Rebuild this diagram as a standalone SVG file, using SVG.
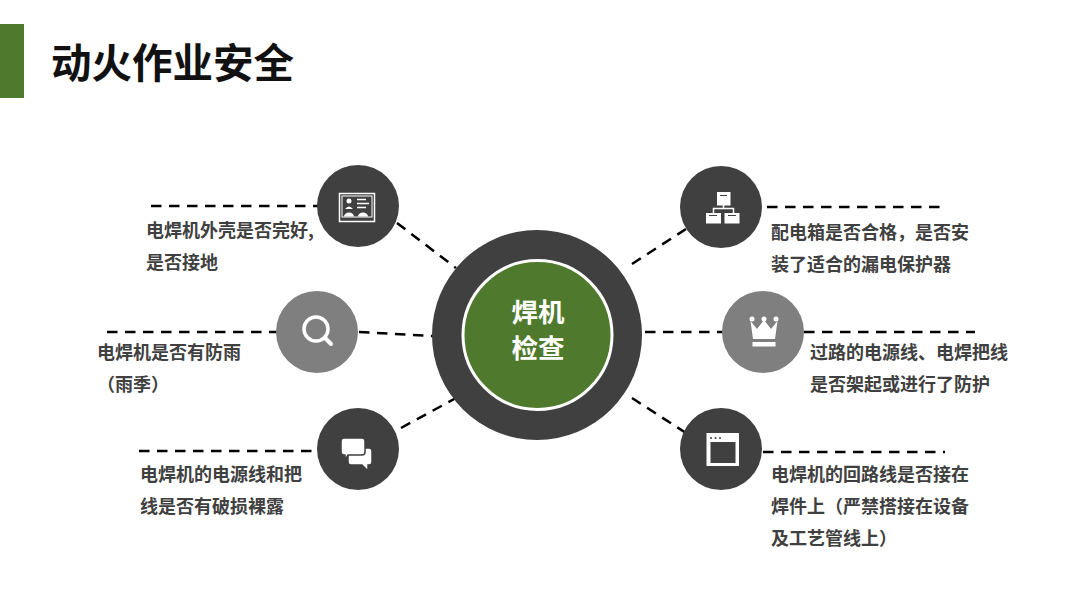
<svg xmlns="http://www.w3.org/2000/svg" width="1080" height="608" viewBox="0 0 1080 608">
<style>
text{font-family:"Noto Sans CJK SC","Liberation Sans",sans-serif}
.l{font-size:18px;font-weight:700;fill:#404040}
.d{fill:#404040}.g{fill:#7f7f7f}
.c{stroke:#000;stroke-width:2.500;fill:none;stroke-dasharray:10.500 7.500}
.w{fill:#fff}.ws{stroke:#fff;fill:none}
</style>
<rect width="1080" height="608" fill="#fff"/>
<rect id="title-bar" x="0" y="24" width="24" height="74" fill="#4f7a2e"/>
<text id="title" x="51" y="78" font-size="40.500" font-weight="700" fill="#111">动火作业安全</text>
<g id="connectors">
<path class="c" d="M151 206H318"/>
<path class="c" d="M397 223L456 268"/>
<path class="c" d="M107 332H277"/>
<path class="c" d="M359 332L433 336"/>
<path class="c" d="M139 451H318"/>
<path class="c" d="M401 428L456 398"/>
<path class="c" d="M767 207H940"/>
<path class="c" d="M632 264L686 229"/>
<path class="c" d="M645 332H723"/>
<path class="c" d="M804 332H975"/>
<path class="c" d="M632 398L686 433"/>
<path class="c" d="M763 452H945"/>
</g>
<g id="center">
<circle cx="537" cy="335" r="105" class="d"/>
<circle cx="537.500" cy="335" r="74.500" fill="#4f7a2e" stroke="#fff" stroke-width="3"/>
<text x="538" y="322" font-size="26.500" font-weight="700" fill="#fff" text-anchor="middle">焊机</text>
<text x="538" y="358" font-size="26.500" font-weight="700" fill="#fff" text-anchor="middle">检查</text>
</g>
<g id="n1">
<circle cx="358" cy="206" r="41" class="d"/>
<rect x="339.500" y="193.500" width="35" height="28" class="ws" stroke-width="1.500"/>
<rect x="342" y="196" width="30" height="21" class="ws" stroke-width="1"/>
<circle cx="349" cy="201" r="2.500" class="w"/>
<path class="w" d="M345 209q4-5 8 0zM344 216.500a5 4 0 0 1 10 0zM358 216.500a5 4 0 0 1 10 0z"/>
<path class="ws" stroke-width="1.500" d="M357 199.500h9M357 203.500h12M357 207.500h9"/>
<text class="l" x="146" y="237">电焊机外壳是否完好,</text>
<text class="l" x="146" y="269">是否接地</text>
</g>
<g id="n2">
<circle cx="317" cy="332" r="41" class="g"/>
<circle cx="316" cy="329" r="12" class="ws" stroke-width="3.500"/>
<path class="ws" stroke-width="4" stroke-linecap="round" d="M325 338L331 344"/>
<text class="l" x="97" y="359">电焊机是否有防雨</text>
<text class="l" x="97" y="391">（雨季）</text>
</g>
<g id="n3">
<circle cx="358" cy="449" r="41" class="d"/>
<path class="w" stroke="#404040" stroke-width="1.500" d="M351 448h18q3 0 3 3v11q0 3-3 3h-1l0 6-6-6h-11q-3 0-3-3v-11q0-3 3-3z"/>
<path class="w" stroke="#404040" stroke-width="1.500" d="M344 438h18q3 0 3 3v11q0 3-3 3h-14l-3 5 0-5h-1q-3 0-3-3v-11q0-3 3-3z"/>
<text class="l" x="140" y="481">电焊机的电源线和把</text>
<text class="l" x="140" y="513">线是否有破损裸露</text>
</g>
<g id="n4">
<circle cx="721" cy="207" r="41" class="d"/>
<rect x="717" y="192" width="13.500" height="13.500" class="w"/>
<path class="ws" stroke-width="1.500" d="M723.500 205v3M713.500 213v-4.500h20v4.500"/>
<rect x="706" y="213" width="15" height="10.500" class="w"/>
<rect x="724.500" y="213" width="15" height="10.500" class="w"/>
<path stroke="#404040" stroke-width="1" d="M720 195.500h7M709 215.500h8M728 215.500h8"/>
<text class="l" x="771" y="239">配电箱是否合格，是否安</text>
<text class="l" x="771" y="271">装了适合的漏电保护器</text>
</g>
<g id="n5">
<circle cx="763" cy="332" r="41" class="g"/>
<path class="w" d="M753 339L750.500 321 757 329 764 320 771 329 777.500 321 775 339z"/>
<circle cx="752" cy="319" r="2.500" class="w"/>
<circle cx="764" cy="319" r="2.500" class="w"/>
<circle cx="776" cy="319" r="2.500" class="w"/>
<rect x="752.500" y="342" width="23" height="4.500" class="w"/>
<text class="l" x="810" y="359">过路的电源线、电焊把线</text>
<text class="l" x="810" y="391">是否架起或进行了防护</text>
</g>
<g id="n6">
<circle cx="721" cy="449" r="41" class="d"/>
<rect x="706.500" y="433" width="32.500" height="33" class="w"/>
<rect x="710.500" y="442" width="25" height="21" class="d"/>
<circle cx="711" cy="438" r="1" class="d"/><circle cx="715.500" cy="438" r="1" class="d"/><circle cx="720" cy="438" r="1" class="d"/>
<text class="l" x="771" y="481">电焊机的回路线是否接在</text>
<text class="l" x="771" y="513">焊件上（严禁搭接在设备</text>
<text class="l" x="771" y="545">及工艺管线上）</text>
</g>
</svg>
